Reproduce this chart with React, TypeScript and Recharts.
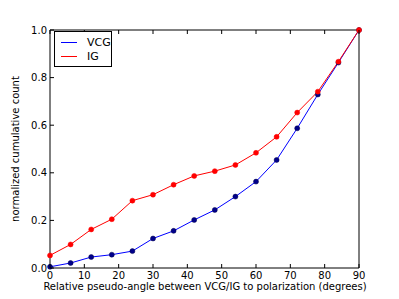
import { LineChart, Line, XAxis, YAxis } from 'recharts';

const angles = [0, 6, 12, 18, 24, 30, 36, 42, 48, 54, 60, 66, 72, 78, 84, 90];
const vcg = [0.005, 0.021, 0.046, 0.056, 0.071, 0.124, 0.156, 0.202, 0.244, 0.3, 0.363, 0.454, 0.587, 0.729, 0.863, 1.0];
const ig = [0.053, 0.099, 0.162, 0.205, 0.283, 0.308, 0.35, 0.387, 0.407, 0.433, 0.484, 0.551, 0.653, 0.741, 0.867, 1.0];
const xTicks = [0, 10, 20, 30, 40, 50, 60, 70, 80, 90];
const yTicks = [0, 0.2, 0.4, 0.6, 0.8, 1.0];
const seriesNames = ['VCG', 'IG'];
const seriesColors = ['#0000ff', '#ff0000'];

const data = angles.map((a, i) => ({ angle: a, VCG: vcg[i], IG: ig[i] }));

const FONT = '"DejaVu Sans", sans-serif';

function BottomTick({ x, y, payload }: any) {
  return (
    <g>
      <line x1={x} y1={y} x2={x} y2={y - 4} stroke="#000" />
      <text x={x} y={y + 11} textAnchor="middle" fontSize={10} fontFamily={FONT} fill="#000">
        {payload.value}
      </text>
    </g>
  );
}

function LeftTick({ x, y, payload }: any) {
  return (
    <g>
      <line x1={x} y1={y} x2={x + 4} y2={y} stroke="#000" />
      <text x={x - 3} y={y + 3.5} textAnchor="end" fontSize={10} fontFamily={FONT} fill="#000">
        {Number(payload.value).toFixed(1)}
      </text>
    </g>
  );
}

function TopTick({ x, y }: any) {
  return <line x1={x} y1={y} x2={x} y2={y + 4} stroke="#000" />;
}

function RightTick({ x, y }: any) {
  return <line x1={x} y1={y} x2={x - 4} y2={y} stroke="#000" />;
}

function LegendBox() {
  return (
    <div
      style={{
        position: 'absolute',
        left: 54,
        top: 31,
        border: '1px solid #000',
        background: '#fff',
        width: 56,
        padding: '3px 0',
        fontFamily: FONT,
        fontSize: 11,
      }}
    >
      {seriesNames.map((name, i) => (
        <div key={name} style={{ display: 'flex', alignItems: 'center', height: 14 }}>
          <div
            style={{
              flex: '0 0 16px',
              height: 1,
              background: seriesColors[i],
              marginLeft: 6,
              marginRight: 10,
            }}
          />
          <span>{name}</span>
        </div>
      ))}
    </div>
  );
}

export default function App() {
  return (
    <div style={{ position: 'absolute', left: 0, top: 0, width: 399, height: 299, background: '#fff' }}>
      <LineChart width={399} height={299} data={data} margin={{ top: 29, right: 39, bottom: 0, left: 0 }}>
        <XAxis
          dataKey="angle"
          type="number"
          domain={[0, 90]}
          ticks={xTicks}
          tickSize={0}
          tickMargin={0}
          tickLine={false}
          tick={<BottomTick />}
          height={31}
          axisLine={{ stroke: '#000' }}
        />
        <YAxis
          type="number"
          domain={[0, 1]}
          ticks={yTicks}
          tickSize={0}
          tickMargin={0}
          tickLine={false}
          tick={<LeftTick />}
          width={50}
          axisLine={{ stroke: '#000' }}
        />
        <XAxis
          xAxisId="top"
          orientation="top"
          dataKey="angle"
          type="number"
          domain={[0, 90]}
          ticks={xTicks}
          tickSize={0}
          tickMargin={0}
          tickLine={false}
          tick={<TopTick />}
          height={1}
          axisLine={{ stroke: '#000' }}
        />
        <YAxis
          yAxisId="right"
          orientation="right"
          type="number"
          domain={[0, 1]}
          ticks={yTicks}
          tickSize={0}
          tickMargin={0}
          tickLine={false}
          tick={<RightTick />}
          width={1}
          axisLine={{ stroke: '#000' }}
        />
        <Line
          dataKey="VCG"
          stroke={seriesColors[0]}
          strokeWidth={1}
          dot={{ r: 2.5, fill: '#00008b', stroke: '#00004a', strokeWidth: 0.5 }}
          isAnimationActive={false}
        />
        <Line
          dataKey="IG"
          stroke={seriesColors[1]}
          strokeWidth={1}
          dot={{ r: 2.5, fill: '#ff0000', stroke: '#ff0000', strokeWidth: 0.5 }}
          isAnimationActive={false}
        />
      </LineChart>
      <LegendBox />
      <div
        style={{
          position: 'absolute',
          left: 5,
          top: 281,
          width: 400,
          height: 12,
          lineHeight: '12px',
          textAlign: 'center',
          fontFamily: FONT,
          fontSize: 10,
          color: '#000',
        }}
      >
        Relative pseudo-angle between VCG/IG to polarization (degrees)
      </div>
      <div
        style={{
          position: 'absolute',
          left: -84,
          top: 143,
          width: 200,
          height: 12,
          lineHeight: '12px',
          textAlign: 'center',
          fontFamily: FONT,
          fontSize: 10,
          color: '#000',
          transform: 'rotate(-90deg)',
          transformOrigin: '100px 6px',
        }}
      >
        normalized cumulative count
      </div>
    </div>
  );
}
